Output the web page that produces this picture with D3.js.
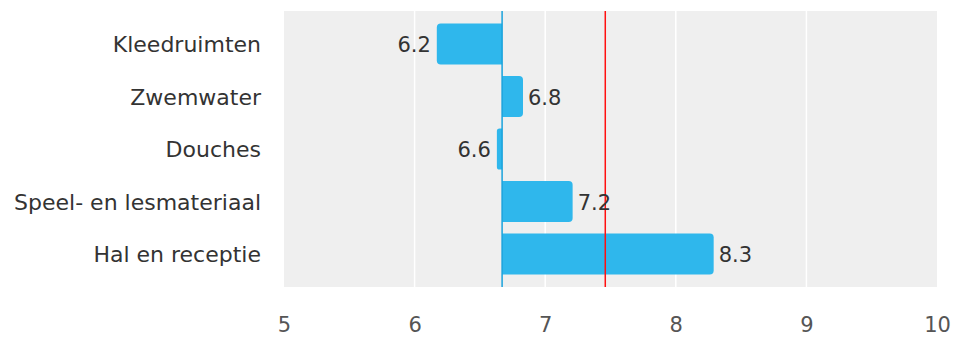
<!DOCTYPE html>
<html>
<head>
<meta charset="utf-8">
<script src="https://cdn.jsdelivr.net/npm/d3@7/dist/d3.min.js"></script>
<style>
  html, body { margin: 0; padding: 0; background: #fff; }
  svg { display: block; font-family: "DejaVu Sans", sans-serif; }
</style>
</head>
<body>
<svg id="chart" width="961" height="340"></svg>
<script>
// Scores per onderdeel, afgezet tegen het gemiddelde (basislijn) en de norm
const categories = ["Kleedruimten", "Zwemwater", "Douches", "Speel- en lesmateriaal", "Hal en receptie"];
const scores = [6.17, 6.83, 6.63, 7.21, 8.29];
const labels = ["6.2", "6.8", "6.6", "7.2", "8.3"];
const baseline = 6.67;
const norm = 7.46;
const xTicks = [5, 6, 7, 8, 9, 10];

const svg = d3.select("#chart");
const plotLeft = 284, plotRight = 937, plotTop = 11, plotBottom = 287;

const x = d3.scaleLinear().domain([5, 10]).range([plotLeft, plotRight]);
const y = d3.scaleBand().domain(categories).range([plotTop, plotBottom])
  .paddingInner(0.219).paddingOuter(0.238);

// plot background
svg.append("rect")
  .attr("x", plotLeft).attr("y", plotTop)
  .attr("width", plotRight - plotLeft).attr("height", plotBottom - plotTop)
  .attr("fill", "#efefef");

// vertical grid lines
svg.append("g").selectAll("line")
  .data(xTicks.slice(1, -1))
  .join("line")
  .attr("x1", d => x(d)).attr("x2", d => x(d))
  .attr("y1", plotTop).attr("y2", plotBottom)
  .attr("stroke", "#ffffff").attr("stroke-width", 1.5);

// bars from the baseline, rounded at the free end
const r = 4;
function barPath(v, cat) {
  const y0 = y(cat), h = y.bandwidth();
  const xb = x(baseline), xe = x(v);
  if (xe >= xb) {
    const w = xe - xb, rr = Math.min(r, w / 2);
    return `M${xb},${y0}H${xe - rr}Q${xe},${y0} ${xe},${y0 + rr}V${y0 + h - rr}Q${xe},${y0 + h} ${xe - rr},${y0 + h}H${xb}Z`;
  } else {
    const w = xb - xe, rr = Math.min(r, w / 2);
    return `M${xb},${y0}H${xe + rr}Q${xe},${y0} ${xe},${y0 + rr}V${y0 + h - rr}Q${xe},${y0 + h} ${xe + rr},${y0 + h}H${xb}Z`;
  }
}
svg.append("g").selectAll("path")
  .data(categories)
  .join("path")
  .attr("d", (c, i) => barPath(scores[i], c))
  .attr("fill", "#2fb7ec");

// baseline
svg.append("line")
  .attr("x1", x(baseline)).attr("x2", x(baseline))
  .attr("y1", plotTop).attr("y2", plotBottom)
  .attr("stroke", "#1aa3dc").attr("stroke-width", 1.5);

// norm line
svg.append("line")
  .attr("x1", x(norm)).attr("x2", x(norm))
  .attr("y1", plotTop).attr("y2", plotBottom)
  .attr("stroke", "#ff1010").attr("stroke-width", 1.5);

// value labels
svg.append("g").selectAll("text")
  .data(categories)
  .join("text")
  .attr("x", (c, i) => scores[i] >= baseline ? x(scores[i]) + 5 : x(scores[i]) - 6)
  .attr("y", c => y(c) + y.bandwidth() / 2 + 1)
  .attr("dy", "0.35em")
  .attr("text-anchor", (c, i) => scores[i] >= baseline ? "start" : "end")
  .attr("fill", "#333")
  .attr("font-size", 21)
  .text((c, i) => labels[i]);

// category axis
const yAxis = svg.append("g")
  .attr("transform", `translate(${plotLeft},1)`)
  .call(d3.axisLeft(y).tickSize(0).tickPadding(23));
yAxis.select(".domain").remove();
yAxis.selectAll("text")
  .attr("fill", "#333")
  .attr("font-size", 22)
  .attr("font-family", "DejaVu Sans, sans-serif");

// value axis
const xAxis = svg.append("g")
  .attr("transform", `translate(0,${plotBottom})`)
  .call(d3.axisBottom(x).tickValues(xTicks).tickSize(0).tickPadding(30).tickFormat(d3.format("d")));
xAxis.select(".domain").remove();
xAxis.selectAll("text")
  .attr("fill", "#555")
  .attr("font-size", 21)
  .attr("font-family", "DejaVu Sans, sans-serif");
</script>
</body>
</html>
